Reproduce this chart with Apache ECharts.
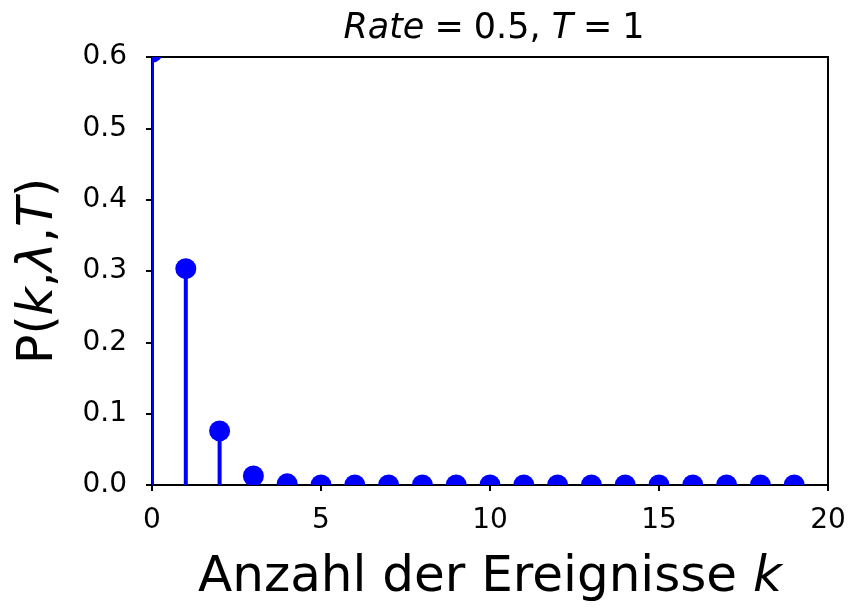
<!DOCTYPE html>
<html>
<head>
<meta charset="utf-8">
<script src="https://cdn.jsdelivr.net/npm/echarts@6/dist/echarts.min.js"></script>
<style>html,body{margin:0;padding:0;background:#fff}#c{width:850px;height:608px}</style>
</head>
<body>
<div id="c"></div>
<script>
const kValues = [0,1,2,3,4,5,6,7,8,9,10,11,12,13,14,15,16,17,18,19];
const probValues = [0.6065,0.3033,0.0758,0.0126,0.0016,0.00016,0.000013,0.000001,0,0,0,0,0,0,0,0,0,0,0,0];
const xTicks = [0,5,10,15,20];
const yTicks = [0.0,0.1,0.2,0.3,0.4,0.5,0.6];

const chart = echarts.init(document.getElementById('c'), null, {renderer:'canvas'});
const FONT = 'DejaVu Sans';
const data = kValues.map((k,i)=>[k, probValues[i]]);
const axisCommon = {
  axisLine:{show:true,onZero:false,lineStyle:{color:'#000',width:2}},
  splitLine:{show:false}
};
chart.setOption({
  animation:false,
  backgroundColor:'#fff',
  title:{
    left:489, top:6, textAlign:'center',
    text:'{i|Rate}{o|=}0.5, {i|T}{o|=}1',
    textStyle:{fontFamily:FONT,fontSize:35,fontWeight:'normal',color:'#000',
      rich:{i:{fontFamily:FONT,fontSize:35,fontStyle:'italic',color:'#000'},
            o:{fontFamily:FONT,fontSize:35,color:'#000',padding:[0,10,0,10]}}}
  },
  grid:{left:152,right:22,top:57,bottom:119,containLabel:false},
  xAxis:[{
    type:'value', min:xTicks[0], max:xTicks[xTicks.length-1], interval:5,
    ...axisCommon,
    axisTick:{show:true,inside:false,length:6,lineStyle:{color:'#000',width:2}},
    axisLabel:{show:true,margin:22,fontFamily:FONT,fontSize:28,color:'#000'},
    name:'Anzahl der Ereignisse {i|k}', nameLocation:'middle', nameGap:68,
    nameTextStyle:{fontFamily:FONT,fontSize:50,color:'#000',
      rich:{i:{fontFamily:FONT,fontSize:50,fontStyle:'italic',color:'#000'}}}
  },{
    type:'value', position:'top', min:0, max:20, interval:5,
    ...axisCommon, axisTick:{show:false}, axisLabel:{show:false}
  }],
  yAxis:[{
    type:'value', min:yTicks[0], max:yTicks[yTicks.length-1], interval:0.1,
    ...axisCommon,
    axisTick:{show:true,inside:false,length:6,lineStyle:{color:'#000',width:2}},
    axisLabel:{show:true,margin:25,fontFamily:FONT,fontSize:28,color:'#000',
      formatter:v=>v.toFixed(1)},
    name:'P({i|k},{i|λ},{i|T})', nameLocation:'middle', nameGap:88, nameRotate:90,
    nameTextStyle:{fontFamily:FONT,fontSize:49,color:'#000',
      rich:{i:{fontFamily:FONT,fontSize:49,fontStyle:'italic',color:'#000'}}}
  },{
    type:'value', position:'right', min:0, max:0.6, interval:0.1,
    ...axisCommon, axisTick:{show:false}, axisLabel:{show:false}
  }],
  series:[{
    type:'custom',
    clip:true,
    xAxisIndex:0, yAxisIndex:0,
    data:data,
    z:1,
    renderItem:function(params, api){
      const x = api.value(0), y = api.value(1);
      const p0 = api.coord([x,0]);
      const p1 = api.coord([x,y]);
      return {type:'group', children:[
        {type:'line', shape:{x1:p0[0],y1:p0[1],x2:p1[0],y2:p1[1]}, style:{stroke:'#0000ff',lineWidth:4}},
        {type:'circle', shape:{cx:p1[0],cy:p1[1],r:10.5}, style:{fill:'#0000ff'}}
      ]};
    }
  }]
});
</script>
</body>
</html>
